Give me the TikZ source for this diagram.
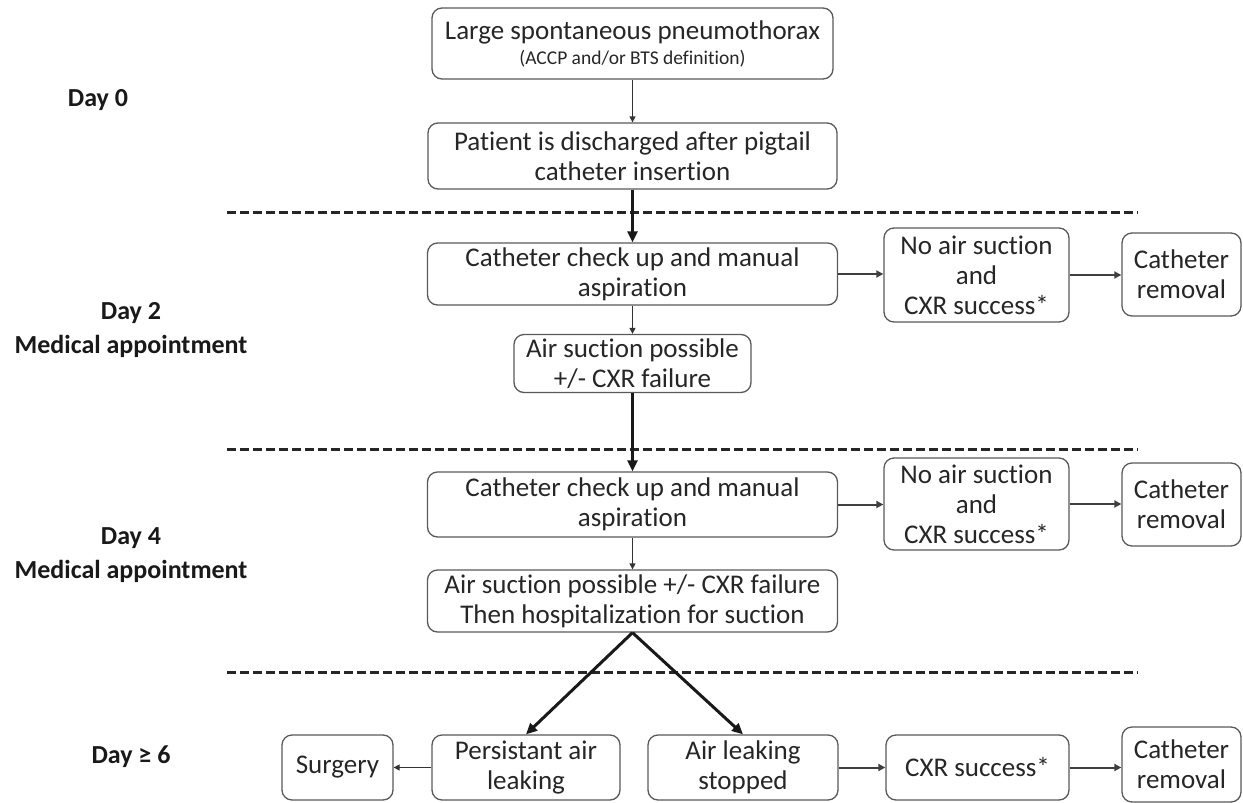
\documentclass[tikz,border=0pt]{standalone}
\usepackage{fontspec}
\setmainfont{Carlito}[Ligatures={NoCommon}]
\usetikzlibrary{arrows.meta}
\begin{document}
\begin{tikzpicture}[x=1pt,y=-1pt,
  box/.style={draw=black!65, line width=1.3pt, rounded corners=10pt, align=center, inner sep=0pt, text=black!85, font=\fontsize{27}{30}\selectfont},
  thinarr/.style={draw=black!80, line width=1.3pt, -{Triangle[length=6pt,width=6pt]}},
  midarr/.style={draw=black!75, line width=2pt, -{Triangle[length=7pt,width=7pt]}},
  thickarr/.style={draw=black!90, line width=3pt, -{Triangle[length=11pt,width=10pt]}},
  sepline/.style={draw=black!85, line width=3pt, dash pattern=on 9pt off 4pt},
  day/.style={font=\bfseries\fontsize{26}{34}\selectfont, align=center, text=black!90}]
\useasboundingbox (0,0) rectangle (1243,803);
% separators
\draw[sepline] (227,212) -- (1138,212);
\draw[sepline] (227,449) -- (1138,449);
\draw[sepline] (227,672) -- (1138,672);
% day labels
\node[day] (d0) at (98,100) {Day 0};
\node[day] (d2) at (131,330) {Day 2\\Medical appointment};
\node[day] (d4) at (131,555) {Day 4\\Medical appointment};
\node[day] (d6) at (131,757) {Day ≥ 6};
% boxes
\node[box, minimum width=401pt, minimum height=71pt] (b1) at (632.5,43.5) {Large spontaneous pneumothorax\\[-5pt]{\fontsize{19.5}{22}\selectfont (ACCP and/or BTS definition)}};
\node[box, minimum width=409pt, minimum height=66pt] (b2) at (632.5,156) {Patient is discharged after pigtail\\catheter insertion};
\node[box, minimum width=410pt, minimum height=62pt] (b3) at (632.5,274) {Catheter check up and manual\\aspiration};
\node[box, minimum width=185pt, minimum height=94pt] (b4) at (976.5,275) {No air suction\\and\\CXR success*};
\node[box, minimum width=119pt, minimum height=83pt] (b5) at (1181.5,274.5) {Catheter\\removal};
\node[box, minimum width=237pt, minimum height=58pt] (b6) at (632.5,363.5) {Air suction possible\\+/- CXR failure};
\node[box, minimum width=410pt, minimum height=65pt] (b7) at (632.5,504.5) {Catheter check up and manual\\aspiration};
\node[box, minimum width=185pt, minimum height=92pt] (b8) at (976.5,504) {No air suction\\and\\CXR success*};
\node[box, minimum width=119pt, minimum height=83pt] (b9) at (1181.5,504.5) {Catheter\\removal};
\node[box, minimum width=410pt, minimum height=62pt] (b10) at (632.5,601) {Air suction possible +/- CXR failure\\Then hospitalization for suction};
\node[box, minimum width=111pt, minimum height=65pt] (b11) at (337.5,767.5) {Surgery};
\node[box, minimum width=188pt, minimum height=65pt] (b12) at (526,767.5) {Persistant air\\leaking};
\node[box, minimum width=190pt, minimum height=65pt] (b13) at (743,767.5) {Air leaking\\stopped};
\node[box, minimum width=183pt, minimum height=65pt] (b14) at (977.5,767.5) {CXR success*};
\node[box, minimum width=119pt, minimum height=75pt] (b15) at (1181.5,764.5) {Catheter\\removal};
% connectors
\draw[thinarr] (b1) -- (b2);
\draw[thickarr] (b2) -- (b3);
\draw[midarr] (b3.east) -- (b3.east -| b4.west);
\draw[midarr] (b4.east) -- (b4.east -| b5.west);
\draw[thinarr] (b3) -- (b6);
\draw[thickarr] (b6) -- (b7);
\draw[midarr] (b7.east) -- (b7.east -| b8.west);
\draw[midarr] (b8.east) -- (b8.east -| b9.west);
\draw[thinarr] (b7) -- (b10);
\draw[thickarr] (b10.south) -- (b12.north);
\draw[thickarr] (b10.south) -- (b13.north);
\draw[thinarr] (b12.west) -- (b11.east);
\draw[midarr] (b13.east) -- (b14.west);
\draw[midarr] (b14.east) -- (b14.east -| b15.west);
\end{tikzpicture}
\end{document}
